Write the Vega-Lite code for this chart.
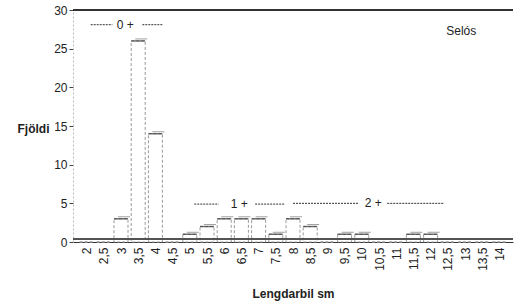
{
  "$schema": "https://vega.github.io/schema/vega-lite/v6.json",
  "width": 440,
  "height": 232,
  "autosize": {"type": "none"},
  "padding": {"left": 73, "top": 10, "right": 3, "bottom": 60},
  "background": "white",
  "config": {
    "view": {"stroke": null},
    "font": "Liberation Sans",
    "axis": {"labelFont": "Liberation Sans", "titleFont": "Liberation Sans", "labelColor": "#222", "titleColor": "#222", "grid": false}
  },
  "datasets": {
    "counts": [
      {"lengd": 2, "fjoldi": 0}, {"lengd": 2.5, "fjoldi": 0}, {"lengd": 3, "fjoldi": 3},
      {"lengd": 3.5, "fjoldi": 26}, {"lengd": 4, "fjoldi": 14}, {"lengd": 4.5, "fjoldi": 0},
      {"lengd": 5, "fjoldi": 1}, {"lengd": 5.5, "fjoldi": 2}, {"lengd": 6, "fjoldi": 3},
      {"lengd": 6.5, "fjoldi": 3}, {"lengd": 7, "fjoldi": 3}, {"lengd": 7.5, "fjoldi": 1},
      {"lengd": 8, "fjoldi": 3}, {"lengd": 8.5, "fjoldi": 2}, {"lengd": 9, "fjoldi": 0},
      {"lengd": 9.5, "fjoldi": 1}, {"lengd": 10, "fjoldi": 1}, {"lengd": 10.5, "fjoldi": 0},
      {"lengd": 11, "fjoldi": 0}, {"lengd": 11.5, "fjoldi": 1}, {"lengd": 12, "fjoldi": 1},
      {"lengd": 12.5, "fjoldi": 0}, {"lengd": 13, "fjoldi": 0}, {"lengd": 13.5, "fjoldi": 0},
      {"lengd": 14, "fjoldi": 0}
    ],
    "dashes": [
      {"lengd": 2.12, "b": 2.75, "fjoldi": 28.1}, {"lengd": 3.62, "b": 4.22, "fjoldi": 28.1},
      {"lengd": 5.13, "b": 5.84, "fjoldi": 4.9}, {"lengd": 6.9, "b": 7.77, "fjoldi": 4.9},
      {"lengd": 8.0, "b": 9.92, "fjoldi": 5.0}, {"lengd": 10.74, "b": 12.4, "fjoldi": 5.0}
    ],
    "labels": [
      {"t": "0 +", "lengd": 3.12, "fjoldi": 28.1}, {"t": "1 +", "lengd": 6.44, "fjoldi": 4.9},
      {"t": "2 +", "lengd": 10.33, "fjoldi": 5.0}, {"t": "Selós", "lengd": 12.89, "fjoldi": 27.3}
    ]
  },
  "encoding": {
    "x": {
      "field": "lengd", "type": "quantitative",
      "scale": {"domain": [1.75, 14.25], "nice": false, "zero": false},
      "axis": {
        "values": [2, 2.5, 3, 3.5, 4, 4.5, 5, 5.5, 6, 6.5, 7, 7.5, 8, 8.5, 9, 9.5, 10, 10.5, 11, 11.5, 12, 12.5, 13, 13.5, 14],
        "labelAngle": -90, "labelExpr": "replace(format(datum.value, '~g'), '.', ',')",
        "ticks": false, "labelPadding": 5, "labelFontSize": 12,
        "labelFlush": false, "labelOverlap": false,
        "title": "Lengdarbil sm", "titleFontSize": 12, "titleFontWeight": "bold",
        "titleY": 51, "titleBaseline": "middle", "domainColor": "#333"
      }
    },
    "y": {
      "field": "fjoldi", "type": "quantitative",
      "scale": {"domain": [0, 30], "nice": false},
      "axis": {
        "values": [0, 5, 10, 15, 20, 25, 30], "tickSize": 4, "tickColor": "#444",
        "labelPadding": 2, "labelFontSize": 12,
        "title": "Fjöldi", "titleAngle": 0, "titleX": -40, "titleY": 118,
        "titleAlign": "center", "titleBaseline": "middle", "titleFontSize": 12, "titleFontWeight": "bold",
        "domainColor": "#bbb", "domainDash": [2, 2]
      }
    }
  },
  "layer": [
    {
      "data": {"name": "counts"},
      "mark": {"type": "bar", "size": 14, "fill": "white", "stroke": "#999", "strokeWidth": 1, "strokeDash": [3, 2]}
    },
    {
      "data": {"name": "counts"},
      "transform": [{"filter": "datum.fjoldi > 0"}],
      "mark": {"type": "tick", "orient": "horizontal", "size": 12, "thickness": 1, "color": "#777", "xOffset": 3, "yOffset": -2}
    },
    {
      "data": {"name": "counts"},
      "transform": [{"filter": "datum.fjoldi > 0"}],
      "mark": {"type": "tick", "orient": "horizontal", "size": 14, "thickness": 1.5, "color": "#333"}
    },
    {
      "data": {"name": "counts"},
      "mark": {"type": "rule", "color": "#555", "strokeWidth": 1},
      "encoding": {"x": {"value": 0}, "x2": {"value": 440}, "y": {"datum": 0.4}}
    },
    {
      "data": {"name": "counts"},
      "mark": {"type": "rule", "color": "#333", "strokeWidth": 1.5},
      "encoding": {"x": {"value": 0}, "x2": {"value": 440}, "y": {"datum": 30}}
    },
    {
      "data": {"name": "dashes"},
      "mark": {"type": "rule", "color": "#333", "strokeWidth": 1, "strokeDash": [2, 1]},
      "encoding": {"x2": {"field": "b"}}
    },
    {
      "data": {"name": "labels"},
      "mark": {"type": "text", "fontSize": 12, "align": "center", "baseline": "middle", "color": "#222", "font": "Liberation Sans"},
      "encoding": {"text": {"field": "t"}}
    }
  ]
}
